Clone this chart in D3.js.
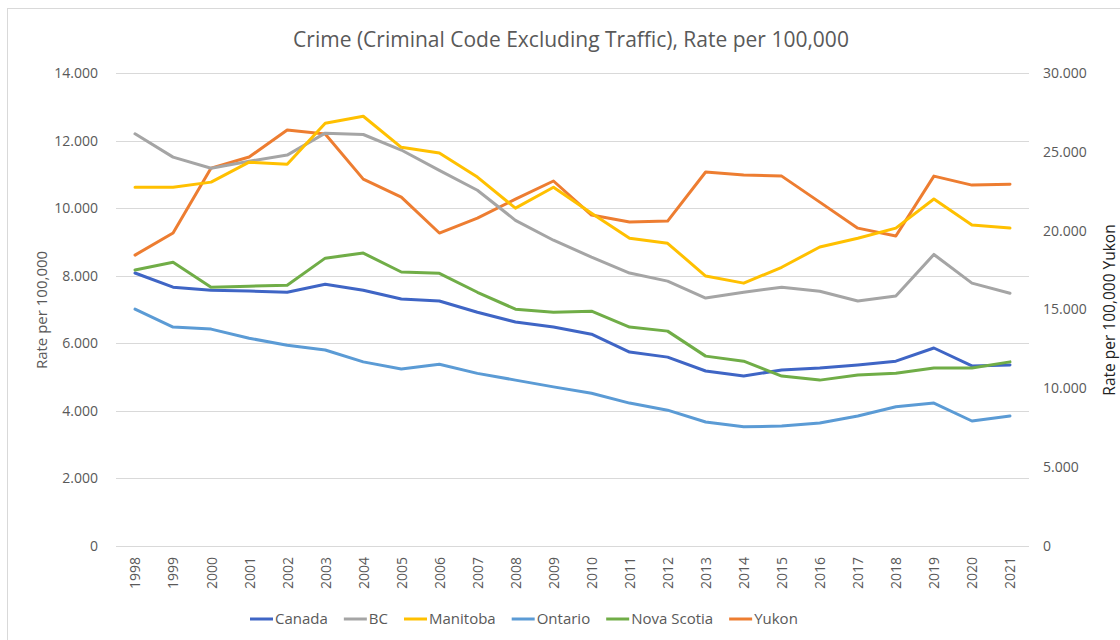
<!DOCTYPE html>
<html>
<head>
<meta charset="utf-8">
<script src="https://d3js.org/d3.v7.min.js"></script>
<style>
  body { margin: 0; background: #fff; }
  svg text { font-family: "Open Sans", sans-serif; fill: #595959; }
</style>
</head>
<body>
<svg id="chart" width="1120" height="640"></svg>
<script>
// years on the category axis
const years = d3.range(1998, 2022).map(String);

// left axis series (rate per 100,000)
const canada = [8080, 7660, 7570, 7545, 7510, 7750, 7570, 7310, 7250, 6920, 6630, 6480, 6270, 5740, 5590, 5180, 5030, 5210, 5270, 5360, 5470, 5860, 5330, 5360];
const bc = [12200, 11510, 11180, 11390, 11570, 12220, 12180, 11720, 11120, 10530, 9640, 9050, 8550, 8080, 7840, 7340, 7510, 7660, 7540, 7250, 7400, 8630, 7780, 7480];
const manitoba = [10620, 10620, 10770, 11360, 11300, 12510, 12720, 11800, 11630, 10920, 10000, 10620, 9850, 9110, 8960, 7990, 7780, 8250, 8850, 9110, 9410, 10270, 9500, 9410];
const ontario = [7010, 6480, 6420, 6150, 5940, 5800, 5450, 5240, 5380, 5110, 4910, 4710, 4520, 4230, 4020, 3670, 3530, 3550, 3640, 3850, 4120, 4230, 3700, 3850];
const novaScotia = [8170, 8400, 7660, 7690, 7720, 8520, 8670, 8110, 8070, 7510, 7010, 6920, 6950, 6480, 6360, 5620, 5470, 5030, 4910, 5060, 5110, 5270, 5270, 5450];
// right axis series
const yukon = [18450, 19850, 23970, 24670, 26380, 26130, 23270, 22130, 19850, 20800, 22000, 23150, 20990, 20550, 20610, 23720, 23530, 23460, 21810, 20160, 19660, 23460, 22890, 22950];

const leftTicks = [0, 2000, 4000, 6000, 8000, 10000, 12000, 14000];
const rightTicks = [0, 5000, 10000, 15000, 20000, 25000, 30000];

const series = [
  { name: "Canada", values: canada, color: "#3f65c5", axis: "left" },
  { name: "BC", values: bc, color: "#a5a5a5", axis: "left" },
  { name: "Manitoba", values: manitoba, color: "#ffc000", axis: "left" },
  { name: "Ontario", values: ontario, color: "#5b9bd5", axis: "left" },
  { name: "Nova Scotia", values: novaScotia, color: "#70ad47", axis: "left" },
  { name: "Yukon", values: yukon, color: "#ed7d31", axis: "right" }
];
const drawOrder = ["Yukon", "Ontario", "Canada", "Nova Scotia", "BC", "Manitoba"];

const svg = d3.select("#chart");
const margin = { left: 116, right: 1029, top: 73, bottom: 546 };

// chart frame
svg.append("rect")
  .attr("x", 7.5).attr("y", 8.5)
  .attr("width", 1130).attr("height", 640)
  .attr("fill", "none").attr("stroke", "#d9d9d9");

const x = d3.scalePoint().domain(years)
  .range([margin.left, margin.right]).padding(0.5);
const yL = d3.scaleLinear().domain([0, 14000]).range([margin.bottom, margin.top]);
const yR = d3.scaleLinear().domain([0, 30000]).range([margin.bottom, margin.top]);

const fmt = d => d === 0 ? "0" : d3.format(",")(d).replace(/,/g, ".");

// gridlines from left axis
svg.append("g")
  .selectAll("line").data(leftTicks.filter(d => d > 0)).enter().append("line")
  .attr("x1", margin.left).attr("x2", margin.right)
  .attr("y1", d => Math.round(yL(d)) + 0.5).attr("y2", d => Math.round(yL(d)) + 0.5)
  .attr("stroke", "#d9d9d9").attr("stroke-width", 1);

// left axis
const leftAxis = svg.append("g")
  .attr("transform", `translate(${margin.left},0)`)
  .call(d3.axisLeft(yL).tickValues(leftTicks).tickFormat(fmt).tickSize(0).tickPadding(18));
leftAxis.select(".domain").remove();
leftAxis.selectAll("text").style("font-size", "14px").attr("fill", "#595959");

// right axis
const rightAxis = svg.append("g")
  .attr("transform", `translate(${margin.right},0)`)
  .call(d3.axisRight(yR).tickValues(rightTicks).tickFormat(fmt).tickSize(0).tickPadding(14));
rightAxis.select(".domain").remove();
rightAxis.selectAll("text").style("font-size", "14px").attr("fill", "#595959");

// x axis
svg.append("line")
  .attr("x1", margin.left).attr("x2", margin.right)
  .attr("y1", margin.bottom + 0.5).attr("y2", margin.bottom + 0.5)
  .attr("stroke", "#d9d9d9");
const xAxis = svg.append("g")
  .attr("transform", `translate(0,${margin.bottom})`)
  .call(d3.axisBottom(x).tickSize(0).tickPadding(0));
xAxis.select(".domain").remove();
xAxis.selectAll("text")
  .style("font-size", "14px").attr("fill", "#595959")
  .attr("text-anchor", "end")
  .attr("dy", "0.35em")
  .attr("transform", "translate(0,11) rotate(-90)");

// lines
const byName = Object.fromEntries(series.map(s => [s.name, s]));
drawOrder.forEach(n => {
  const s = byName[n];
  const yS = s.axis === "left" ? yL : yR;
  const line = d3.line().x((d, i) => x(years[i])).y(d => yS(d));
  svg.append("path")
    .datum(s.values)
    .attr("d", line)
    .attr("fill", "none")
    .attr("stroke", s.color)
    .attr("stroke-width", 3)
    .attr("stroke-linejoin", "round")
    .attr("stroke-linecap", "round");
});

// title
svg.append("text")
  .attr("x", 571).attr("y", 47)
  .attr("text-anchor", "middle")
  .style("font-size", "21px")
  .text("Crime (Criminal Code Excluding Traffic), Rate per 100,000");

// axis titles
svg.append("text")
  .attr("transform", "translate(47,310) rotate(-90)")
  .attr("text-anchor", "middle")
  .style("font-size", "15px")
  .text("Rate per 100,000");
svg.append("text")
  .attr("transform", "translate(1115,310) rotate(-90)")
  .attr("text-anchor", "middle")
  .style("font-size", "15.5px")
  .style("fill", "#222")
  .text("Rate per 100,000 Yukon");

// legend
const legend = svg.append("g");
let lx = 0;
series.forEach(s => {
  const g = legend.append("g").attr("transform", `translate(${lx},0)`);
  g.append("line").attr("x1", 0).attr("x2", 23).attr("y1", 0).attr("y2", 0)
    .attr("stroke", s.color).attr("stroke-width", 3);
  const t = g.append("text").attr("x", 25).attr("y", 0).attr("dy", "0.35em")
    .style("font-size", "15px").text(s.name);
  lx += 25 + t.node().getComputedTextLength() + 16;
});
legend.attr("transform", `translate(${Math.round(524 - (lx - 16) / 2)},619)`);
</script>
</body>
</html>
